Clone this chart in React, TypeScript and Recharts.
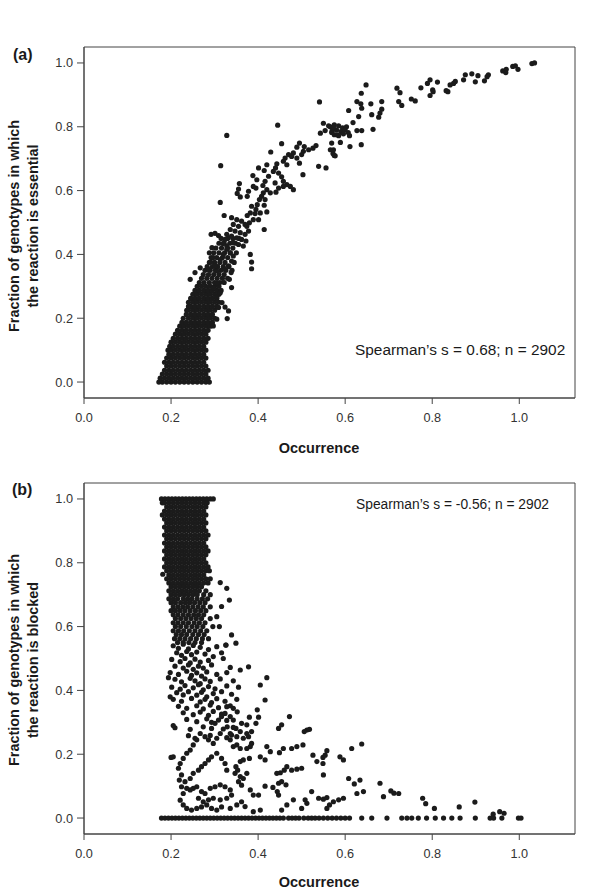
import React from 'react';
import { ScatterChart, Scatter, XAxis, YAxis, ReferenceArea } from 'recharts';

// ---------- axes ----------
const xTicks = [0, 0.2, 0.4, 0.6, 0.8, 1.0];
const yTicks = [0, 0.2, 0.4, 0.6, 0.8, 1.0];
const xDomain: [number, number] = [0, 1.128];
const yDomain: [number, number] = [-0.05, 1.05];

// ---------- panel (a): essential ----------
// dense core read row by row: [y, x values]
const essentialRows: [number, number[]][] = [
  [0.0, [0.172, 0.18, 0.19, 0.2, 0.21, 0.22, 0.23, 0.24, 0.25, 0.26, 0.27, 0.28, 0.288]],
  [0.012, [0.175, 0.185, 0.195, 0.205, 0.215, 0.225, 0.235, 0.245, 0.255, 0.265, 0.275, 0.285]],
  [0.025, [0.18, 0.19, 0.2, 0.21, 0.22, 0.23, 0.24, 0.25, 0.26, 0.27, 0.28]],
  [0.037, [0.185, 0.195, 0.205, 0.215, 0.225, 0.235, 0.245, 0.255, 0.265, 0.275, 0.285]],
  [0.05, [0.19, 0.2, 0.21, 0.22, 0.23, 0.24, 0.25, 0.26, 0.27, 0.28]],
  [0.062, [0.185, 0.195, 0.205, 0.215, 0.225, 0.235, 0.245, 0.255, 0.265, 0.275]],
  [0.075, [0.19, 0.2, 0.21, 0.22, 0.23, 0.24, 0.25, 0.26, 0.27, 0.28]],
  [0.087, [0.195, 0.205, 0.215, 0.225, 0.235, 0.245, 0.255, 0.265, 0.275]],
  [0.1, [0.193, 0.2, 0.21, 0.22, 0.23, 0.24, 0.25, 0.26, 0.27, 0.28]],
  [0.112, [0.197, 0.205, 0.215, 0.225, 0.235, 0.245, 0.255, 0.265, 0.275]],
  [0.125, [0.2, 0.21, 0.22, 0.23, 0.24, 0.25, 0.26, 0.27, 0.28]],
  [0.137, [0.205, 0.215, 0.225, 0.235, 0.245, 0.255, 0.265, 0.275, 0.285]],
  [0.15, [0.21, 0.22, 0.23, 0.24, 0.25, 0.26, 0.27, 0.28]],
  [0.162, [0.215, 0.225, 0.235, 0.245, 0.255, 0.265, 0.275, 0.285]],
  [0.175, [0.22, 0.23, 0.24, 0.25, 0.26, 0.27, 0.28, 0.29]],
  [0.187, [0.225, 0.235, 0.245, 0.255, 0.265, 0.275, 0.285, 0.295]],
  [0.2, [0.228, 0.24, 0.25, 0.26, 0.27, 0.28, 0.29, 0.3]],
  [0.212, [0.235, 0.245, 0.255, 0.265, 0.275, 0.285, 0.295]],
  [0.225, [0.236, 0.24, 0.25, 0.26, 0.27, 0.28, 0.29, 0.3]],
  [0.237, [0.24, 0.245, 0.255, 0.265, 0.275, 0.285, 0.295, 0.305]],
  [0.25, [0.24, 0.25, 0.26, 0.27, 0.28, 0.29, 0.3, 0.31]],
  [0.262, [0.245, 0.255, 0.265, 0.275, 0.285, 0.295, 0.305]],
  [0.275, [0.25, 0.26, 0.27, 0.28, 0.29, 0.3, 0.31]],
  [0.287, [0.255, 0.265, 0.275, 0.285, 0.295, 0.305, 0.315]],
  [0.3, [0.26, 0.27, 0.28, 0.29, 0.3, 0.31]],
  [0.312, [0.265, 0.276, 0.288, 0.3, 0.312, 0.322]],
  [0.325, [0.27, 0.282, 0.294, 0.306, 0.318, 0.33]],
  [0.337, [0.274, 0.286, 0.298, 0.31, 0.322]],
  [0.35, [0.278, 0.29, 0.302, 0.314, 0.326, 0.34]],
  [0.362, [0.283, 0.295, 0.307, 0.32, 0.333]],
  [0.375, [0.288, 0.3, 0.312, 0.324, 0.345]],
  [0.39, [0.292, 0.305, 0.318, 0.33]],
  [0.405, [0.298, 0.31, 0.323, 0.336, 0.35]],
  [0.42, [0.303, 0.316, 0.33, 0.342]],
  [0.435, [0.31, 0.322, 0.335, 0.348]],
  [0.45, [0.315, 0.33, 0.342, 0.356]],
];

// scattered points: [x, y]
const essentialPoints: [number, number][] = [
  [1.029, 0.998], [1.035, 1.0], [0.985, 0.989], [0.991, 0.991], [0.997, 0.98], [0.97, 0.98], [0.962, 0.975],
  [0.969, 0.97], [0.929, 0.963], [0.926, 0.957], [0.92, 0.944], [0.905, 0.96], [0.891, 0.966], [0.876, 0.963],
  [0.872, 0.947], [0.899, 0.941], [0.853, 0.942], [0.849, 0.936], [0.841, 0.931], [0.832, 0.913], [0.836, 0.91],
  [0.812, 0.94], [0.795, 0.947], [0.789, 0.936], [0.801, 0.916], [0.802, 0.91], [0.795, 0.898], [0.774, 0.922],
  [0.752, 0.887], [0.761, 0.881], [0.719, 0.921], [0.726, 0.907], [0.723, 0.879], [0.73, 0.867], [0.648, 0.931],
  [0.637, 0.905], [0.627, 0.879], [0.636, 0.872], [0.638, 0.858], [0.659, 0.872], [0.684, 0.879], [0.684, 0.855],
  [0.68, 0.843], [0.677, 0.83], [0.661, 0.838], [0.631, 0.832], [0.608, 0.851], [0.618, 0.813], [0.627, 0.788],
  [0.638, 0.788], [0.61, 0.772], [0.664, 0.792], [0.637, 0.744], [0.611, 0.738], [0.589, 0.751], [0.569, 0.749],
  [0.573, 0.728], [0.575, 0.71],
  [0.566, 0.8], [0.575, 0.806], [0.585, 0.803], [0.594, 0.797], [0.603, 0.8], [0.57, 0.787], [0.58, 0.79],
  [0.59, 0.785], [0.6, 0.79], [0.575, 0.775], [0.585, 0.772], [0.596, 0.778], [0.607, 0.782],
  [0.541, 0.878], [0.445, 0.805], [0.328, 0.773], [0.314, 0.678], [0.313, 0.563],
  [0.55, 0.811], [0.562, 0.803], [0.573, 0.799], [0.554, 0.788], [0.569, 0.782], [0.581, 0.775], [0.543, 0.78],
  [0.533, 0.741], [0.526, 0.733], [0.516, 0.728], [0.566, 0.728], [0.572, 0.716], [0.577, 0.709], [0.556, 0.671],
  [0.539, 0.676], [0.506, 0.738], [0.504, 0.723], [0.5, 0.713], [0.495, 0.749], [0.489, 0.736], [0.481, 0.718],
  [0.477, 0.707], [0.489, 0.702], [0.495, 0.686], [0.47, 0.713], [0.462, 0.702], [0.458, 0.692], [0.466, 0.681],
  [0.454, 0.747], [0.429, 0.721], [0.443, 0.684], [0.44, 0.671], [0.435, 0.66], [0.447, 0.655], [0.454, 0.643],
  [0.458, 0.629], [0.466, 0.619], [0.474, 0.613], [0.481, 0.603], [0.503, 0.65], [0.42, 0.681], [0.414, 0.663],
  [0.401, 0.671], [0.388, 0.647], [0.397, 0.634], [0.389, 0.613], [0.395, 0.608], [0.424, 0.645], [0.416, 0.629],
  [0.411, 0.616], [0.42, 0.603], [0.412, 0.593], [0.428, 0.593], [0.439, 0.624], [0.447, 0.608], [0.441, 0.595],
  [0.458, 0.613], [0.357, 0.622], [0.355, 0.605], [0.352, 0.591], [0.359, 0.58], [0.378, 0.598], [0.375, 0.582],
  [0.403, 0.572], [0.408, 0.582], [0.398, 0.556], [0.395, 0.541], [0.405, 0.53], [0.393, 0.528], [0.401, 0.509],
  [0.416, 0.572], [0.414, 0.554], [0.42, 0.533], [0.385, 0.551], [0.382, 0.53], [0.375, 0.522], [0.389, 0.509],
  [0.38, 0.499], [0.374, 0.488], [0.414, 0.478], [0.322, 0.522],
  [0.339, 0.515], [0.351, 0.509], [0.362, 0.504], [0.37, 0.494], [0.343, 0.494], [0.355, 0.488], [0.336, 0.478],
  [0.347, 0.473], [0.359, 0.468], [0.37, 0.463], [0.378, 0.473], [0.328, 0.463], [0.339, 0.457], [0.351, 0.452],
  [0.362, 0.447], [0.372, 0.442], [0.343, 0.437], [0.355, 0.431], [0.366, 0.426],
  [0.292, 0.463], [0.301, 0.466], [0.309, 0.459], [0.324, 0.447], [0.319, 0.434], [0.328, 0.426],
  [0.382, 0.4], [0.385, 0.376], [0.385, 0.355],
  [0.294, 0.421], [0.288, 0.405], [0.297, 0.39], [0.291, 0.376], [0.301, 0.364], [0.286, 0.353], [0.305, 0.348],
  [0.313, 0.384], [0.32, 0.4], [0.328, 0.416], [0.336, 0.405], [0.343, 0.395], [0.339, 0.379], [0.332, 0.364],
  [0.324, 0.353], [0.338, 0.343], [0.334, 0.322], [0.339, 0.296],
  [0.267, 0.358], [0.255, 0.343], [0.244, 0.322],
  [0.324, 0.235], [0.332, 0.223], [0.329, 0.199],
  [0.305, 0.197], [0.297, 0.176], [0.313, 0.28], [0.305, 0.265], [0.317, 0.249], [0.309, 0.234],
  [0.305, 0.311], [0.297, 0.296],
];

// ---------- panel (b): blocked ----------
const blockedRows: [number, number[]][] = [
  [1.0, [0.178, 0.186, 0.194, 0.202, 0.21, 0.218, 0.226, 0.234, 0.242, 0.25, 0.258, 0.266, 0.274, 0.282, 0.29, 0.297]],
  [0.988, [0.18, 0.185, 0.195, 0.205, 0.215, 0.225, 0.235, 0.245, 0.255, 0.265, 0.275, 0.283]],
  [0.975, [0.19, 0.2, 0.21, 0.22, 0.23, 0.24, 0.25, 0.26, 0.27, 0.28]],
  [0.962, [0.185, 0.195, 0.205, 0.215, 0.225, 0.235, 0.245, 0.255, 0.265, 0.275]],
  [0.95, [0.18, 0.19, 0.2, 0.21, 0.22, 0.23, 0.24, 0.25, 0.26, 0.27, 0.28]],
  [0.937, [0.185, 0.195, 0.205, 0.215, 0.225, 0.235, 0.245, 0.255, 0.265, 0.275]],
  [0.925, [0.19, 0.2, 0.21, 0.22, 0.23, 0.24, 0.25, 0.26, 0.27, 0.28]],
  [0.912, [0.185, 0.195, 0.205, 0.215, 0.225, 0.235, 0.245, 0.255, 0.265, 0.275]],
  [0.9, [0.19, 0.2, 0.21, 0.22, 0.23, 0.24, 0.25, 0.26, 0.27, 0.28]],
  [0.887, [0.185, 0.195, 0.205, 0.215, 0.225, 0.235, 0.245, 0.255, 0.265, 0.275, 0.285]],
  [0.875, [0.19, 0.2, 0.21, 0.22, 0.23, 0.24, 0.25, 0.26, 0.27, 0.28]],
  [0.862, [0.185, 0.195, 0.205, 0.215, 0.225, 0.235, 0.245, 0.255, 0.265, 0.275]],
  [0.85, [0.19, 0.2, 0.21, 0.22, 0.23, 0.24, 0.25, 0.26, 0.27, 0.28]],
  [0.837, [0.185, 0.195, 0.205, 0.215, 0.225, 0.235, 0.245, 0.255, 0.265, 0.275, 0.285]],
  [0.825, [0.19, 0.2, 0.21, 0.22, 0.23, 0.24, 0.25, 0.26, 0.27, 0.28]],
  [0.812, [0.185, 0.195, 0.205, 0.215, 0.225, 0.235, 0.245, 0.255, 0.265, 0.275]],
  [0.8, [0.19, 0.2, 0.21, 0.22, 0.23, 0.24, 0.25, 0.26, 0.27, 0.28]],
  [0.787, [0.185, 0.195, 0.205, 0.215, 0.225, 0.235, 0.245, 0.255, 0.265, 0.275, 0.285]],
  [0.775, [0.19, 0.2, 0.21, 0.22, 0.23, 0.24, 0.25, 0.26, 0.27, 0.28, 0.288]],
  [0.762, [0.195, 0.205, 0.215, 0.225, 0.235, 0.245, 0.255, 0.265, 0.275]],
  [0.75, [0.19, 0.2, 0.21, 0.22, 0.23, 0.24, 0.25, 0.26, 0.27, 0.28, 0.29]],
  [0.737, [0.195, 0.205, 0.215, 0.225, 0.235, 0.245, 0.255, 0.265, 0.275, 0.285]],
  [0.725, [0.2, 0.21, 0.22, 0.23, 0.24, 0.25, 0.26, 0.27]],
  [0.712, [0.195, 0.205, 0.215, 0.225, 0.235, 0.245, 0.255, 0.265, 0.28]],
  [0.7, [0.2, 0.21, 0.22, 0.23, 0.24, 0.25, 0.26, 0.275, 0.29]],
  [0.687, [0.195, 0.205, 0.215, 0.228, 0.238, 0.248, 0.26, 0.272, 0.284]],
  [0.675, [0.2, 0.21, 0.222, 0.233, 0.243, 0.254, 0.266, 0.278]],
  [0.662, [0.205, 0.216, 0.227, 0.238, 0.25, 0.262, 0.274, 0.29]],
  [0.65, [0.2, 0.21, 0.221, 0.232, 0.244, 0.256, 0.268, 0.28]],
  [0.637, [0.205, 0.216, 0.228, 0.24, 0.252, 0.263, 0.275]],
  [0.625, [0.21, 0.222, 0.234, 0.246, 0.258, 0.27, 0.29]],
  [0.612, [0.205, 0.216, 0.228, 0.24, 0.253, 0.265, 0.278]],
  [0.6, [0.21, 0.222, 0.235, 0.248, 0.26, 0.273, 0.296]],
  [0.587, [0.205, 0.217, 0.229, 0.242, 0.255, 0.268, 0.282]],
  [0.575, [0.212, 0.224, 0.236, 0.25, 0.263, 0.276]],
  [0.562, [0.208, 0.22, 0.232, 0.245, 0.258, 0.272, 0.286]],
  [0.55, [0.215, 0.228, 0.241, 0.255, 0.27]],
  [0.0, [0.178, 0.186, 0.194, 0.202, 0.21, 0.218, 0.226, 0.234, 0.242, 0.25, 0.258, 0.266, 0.274, 0.282,
    0.29, 0.298, 0.306, 0.314, 0.322, 0.33, 0.338, 0.346, 0.354, 0.362, 0.37, 0.378, 0.386, 0.394, 0.402,
    0.41, 0.418, 0.426, 0.434, 0.442, 0.45, 0.458, 0.47, 0.478, 0.486, 0.494, 0.505, 0.515, 0.523, 0.531,
    0.54, 0.55, 0.56, 0.57, 0.58, 0.59, 0.6, 0.61, 0.638, 0.661, 0.696, 0.73, 0.742, 0.753, 0.768, 0.787,
    0.807, 0.826, 0.845, 0.864, 0.899, 0.933, 0.941, 0.96, 0.998, 1.004]],
];

const blockedPoints: [number, number][] = [
  // middle scatter below the solid column
  [0.205, 0.54], [0.217, 0.532], [0.228, 0.545], [0.24, 0.53], [0.251, 0.541], [0.267, 0.535], [0.286, 0.528],
  [0.305, 0.537], [0.326, 0.542], [0.213, 0.518], [0.224, 0.51], [0.236, 0.522], [0.247, 0.512], [0.259, 0.52],
  [0.278, 0.514], [0.297, 0.506], [0.316, 0.518], [0.2015, 0.497], [0.221, 0.49], [0.232, 0.5], [0.244, 0.486],
  [0.255, 0.498], [0.267, 0.489], [0.286, 0.494], [0.32, 0.5], [0.209, 0.476], [0.228, 0.47], [0.24, 0.48],
  [0.251, 0.466], [0.263, 0.476], [0.274, 0.47], [0.293, 0.48], [0.336, 0.472], [0.198, 0.456], [0.217, 0.45],
  [0.236, 0.46], [0.247, 0.447], [0.259, 0.455], [0.27, 0.445], [0.282, 0.458], [0.305, 0.45], [0.328, 0.456],
  [0.209, 0.435], [0.224, 0.427], [0.244, 0.438], [0.255, 0.43], [0.267, 0.421], [0.278, 0.436], [0.29, 0.428],
  [0.313, 0.436], [0.343, 0.43], [0.2015, 0.41], [0.221, 0.404], [0.232, 0.415], [0.251, 0.408], [0.263, 0.418],
  [0.274, 0.402], [0.286, 0.412], [0.301, 0.405], [0.328, 0.414], [0.355, 0.41], [0.213, 0.393], [0.228, 0.386],
  [0.24, 0.396], [0.259, 0.385], [0.27, 0.394], [0.282, 0.38], [0.297, 0.39], [0.316, 0.396], [0.339, 0.388],
  [0.205, 0.372], [0.224, 0.366], [0.247, 0.375], [0.267, 0.364], [0.278, 0.372], [0.293, 0.362], [0.305, 0.374],
  [0.324, 0.366], [0.351, 0.372], [0.217, 0.35], [0.236, 0.344], [0.259, 0.352], [0.274, 0.342], [0.29, 0.354],
  [0.309, 0.346], [0.336, 0.352], [0.228, 0.33], [0.251, 0.324], [0.267, 0.332], [0.286, 0.322], [0.297, 0.334],
  [0.316, 0.326], [0.236, 0.309], [0.259, 0.302], [0.282, 0.311], [0.293, 0.3], [0.328, 0.306], [0.209, 0.283],
  [0.244, 0.278], [0.274, 0.286], [0.32, 0.279], [0.343, 0.284], [0.24, 0.258], [0.255, 0.25], [0.29, 0.259],
  [0.328, 0.252],
  // outliers
  [0.181, 0.764], [0.313, 0.738], [0.328, 0.72], [0.334, 0.683], [0.316, 0.663], [0.305, 0.631], [0.311, 0.6],
  [0.339, 0.574], [0.349, 0.548], [0.326, 0.542], [0.359, 0.464], [0.378, 0.474], [0.42, 0.44], [0.405, 0.417],
  [0.416, 0.37], [0.398, 0.339], [0.472, 0.318], [0.447, 0.281], [0.454, 0.292], [0.512, 0.276], [0.518, 0.278],
  [0.506, 0.271], [0.489, 0.224], [0.503, 0.229], [0.477, 0.218], [0.458, 0.218], [0.449, 0.205], [0.42, 0.224],
  [0.428, 0.208], [0.405, 0.192], [0.416, 0.182], [0.443, 0.14], [0.451, 0.142], [0.46, 0.15], [0.466, 0.161],
  [0.447, 0.109], [0.454, 0.114], [0.464, 0.104], [0.444, 0.083], [0.477, 0.15], [0.489, 0.153], [0.5, 0.156],
  [0.526, 0.197], [0.535, 0.177], [0.549, 0.19], [0.554, 0.197], [0.549, 0.171], [0.558, 0.211], [0.588, 0.192],
  [0.596, 0.182], [0.55, 0.135], [0.615, 0.218], [0.638, 0.232], [0.608, 0.124], [0.621, 0.107], [0.634, 0.119],
  [0.68, 0.109], [0.723, 0.077], [0.688, 0.067], [0.627, 0.077], [0.642, 0.083], [0.596, 0.062], [0.585, 0.057],
  [0.573, 0.051], [0.564, 0.041], [0.558, 0.03], [0.539, 0.062], [0.55, 0.059], [0.558, 0.064], [0.523, 0.083],
  [0.508, 0.057], [0.512, 0.046], [0.5, 0.03], [0.481, 0.057], [0.466, 0.041], [0.454, 0.025], [0.447, 0.072],
  [0.434, 0.096], [0.416, 0.1], [0.401, 0.072], [0.389, 0.072], [0.382, 0.088], [0.405, 0.025], [0.389, 0.02],
  [0.374, 0.14], [0.366, 0.124], [0.359, 0.13], [0.355, 0.114], [0.362, 0.103], [0.349, 0.161], [0.347, 0.14],
  [0.353, 0.15], [0.359, 0.177], [0.366, 0.182], [0.38, 0.187], [0.385, 0.234], [0.382, 0.224], [0.374, 0.218],
  [0.359, 0.218], [0.351, 0.229], [0.343, 0.224], [0.339, 0.26], [0.336, 0.245], [0.351, 0.255], [0.366, 0.25],
  [0.378, 0.255], [0.374, 0.265], [0.385, 0.271], [0.359, 0.271], [0.395, 0.297], [0.401, 0.316], [0.38, 0.316],
  [0.374, 0.292], [0.362, 0.297], [0.343, 0.307], [0.336, 0.318], [0.329, 0.286], [0.349, 0.281], [0.336, 0.265],
  [0.352, 0.333], [0.343, 0.344], [0.328, 0.349], [0.324, 0.328], [0.316, 0.318], [0.309, 0.307], [0.301, 0.297],
  [0.293, 0.281], [0.313, 0.265], [0.305, 0.25], [0.297, 0.234], [0.286, 0.245], [0.278, 0.255], [0.267, 0.265],
  [0.259, 0.245], [0.251, 0.229], [0.244, 0.213], [0.236, 0.203], [0.228, 0.187], [0.221, 0.171],
  [0.205, 0.192], [0.217, 0.156], [0.224, 0.135], [0.219, 0.119], [0.232, 0.114], [0.244, 0.124], [0.251, 0.14],
  [0.263, 0.15], [0.27, 0.161], [0.278, 0.171], [0.286, 0.182], [0.293, 0.192], [0.305, 0.203], [0.316, 0.187],
  [0.324, 0.171], [0.328, 0.15],
  [0.244, 0.088], [0.251, 0.093], [0.259, 0.098], [0.27, 0.083], [0.278, 0.077], [0.29, 0.093], [0.301, 0.098],
  [0.313, 0.104], [0.324, 0.098], [0.336, 0.088], [0.339, 0.072], [0.328, 0.062], [0.313, 0.057], [0.297, 0.062],
  [0.286, 0.057], [0.274, 0.051], [0.263, 0.062],
  [0.221, 0.056], [0.228, 0.041], [0.236, 0.03], [0.247, 0.025], [0.259, 0.03], [0.27, 0.035], [0.282, 0.041],
  [0.293, 0.03], [0.305, 0.025], [0.316, 0.035], [0.336, 0.03], [0.351, 0.041], [0.362, 0.051], [0.37, 0.036],
  [0.228, 0.077], [0.224, 0.098], [0.236, 0.093],
  [0.194, 0.44], [0.198, 0.38], [0.205, 0.29], [0.2, 0.19],
  [0.705, 0.085], [0.712, 0.078], [0.778, 0.062], [0.785, 0.045], [0.805, 0.03], [0.862, 0.035], [0.898, 0.05],
  [0.94, 0.012], [0.955, 0.02], [0.965, 0.015],
];

// ---------- helpers ----------
type Pt = { x: number; y: number };
const build = (rows: [number, number[]][], pts: [number, number][]): Pt[] => {
  const out: Pt[] = [];
  rows.forEach(([y, xs]) => xs.forEach((x) => out.push({ x, y })));
  pts.forEach(([x, y]) => out.push({ x, y }));
  return out;
};

const essentialData = build(essentialRows, essentialPoints);
const blockedData = build(blockedRows, blockedPoints);

const FONT = '"Liberation Sans", Arial, Helvetica, sans-serif';
const AXIS = '#444';
const DOT = '#1b1b1b';

const Dot = (p: any) => <circle cx={p.cx} cy={p.cy} r={2.6} fill={DOT} />;
const fmt = (v: number) => v.toFixed(1);

function Panel({ data, top, height }: { data: Pt[]; top: number; height: number }) {
  return (
    <div style={{ position: 'absolute', left: 0, top, width: 600, height }}>
      <ScatterChart width={600} height={height} margin={{ top: 47, right: 25, left: 0, bottom: height - 47 - 351 - 30 }}>
        <XAxis
          type="number"
          dataKey="x"
          domain={xDomain}
          ticks={xTicks}
          allowDataOverflow
          tickFormatter={fmt}
          height={30}
          tickSize={6}
          tickMargin={9}
          stroke={AXIS}
          tick={{ fill: '#333', fontSize: 12.7, fontFamily: FONT }}
        />
        <YAxis
          type="number"
          dataKey="y"
          domain={yDomain}
          ticks={yTicks}
          allowDataOverflow
          tickFormatter={fmt}
          width={84}
          tickSize={7}
          tickMargin={4}
          stroke={AXIS}
          tick={{ fill: '#333', fontSize: 12.7, fontFamily: FONT }}
        />
        <ReferenceArea x1={xDomain[0]} x2={xDomain[1]} y1={yDomain[0]} y2={yDomain[1]} fill="none" stroke={AXIS} strokeWidth={1} ifOverflow="visible" />
        <Scatter data={data} shape={Dot} isAnimationActive={false} />
      </ScatterChart>
    </div>
  );
}

export default function App() {
  return (
    <div style={{ position: 'absolute', left: 0, top: 0, width: 600, height: 893, background: '#fff', fontFamily: FONT }}>
      <Panel data={essentialData} top={0} height={458} />
      <Panel data={blockedData} top={436} height={457} />
      <svg width={600} height={893} style={{ position: 'absolute', left: 0, top: 0, pointerEvents: 'none' }}>
        <g fontFamily={FONT} fill="#1a1a1a">
          <text x={13} y={60} fontSize={16} fontWeight="bold">(a)</text>
          <text x={12} y={495} fontSize={16} fontWeight="bold">(b)</text>
          <text x={18.5} y={226} fontSize={14.4} fontWeight="bold" textAnchor="middle" transform="rotate(-90 18.5 226)">Fraction of genotypes in which</text>
          <text x={37.5} y={226} fontSize={14.4} fontWeight="bold" textAnchor="middle" transform="rotate(-90 37.5 226)">the reaction is essential</text>
          <text x={18.5} y={660} fontSize={14.4} fontWeight="bold" textAnchor="middle" transform="rotate(-90 18.5 660)">Fraction of genotypes in which</text>
          <text x={37.5} y={660} fontSize={14.4} fontWeight="bold" textAnchor="middle" transform="rotate(-90 37.5 660)">the reaction is blocked</text>
          <text x={319} y={452.5} fontSize={14.5} fontWeight="bold" textAnchor="middle">Occurrence</text>
          <text x={319} y={887} fontSize={14.5} fontWeight="bold" textAnchor="middle">Occurrence</text>
          <text x={355} y={354.5} fontSize={15.4}>Spearman’s s = 0.68; n = 2902</text>
          <text x={356} y={509} fontSize={13.8}>Spearman’s s = -0.56; n = 2902</text>
        </g>
      </svg>
    </div>
  );
}
